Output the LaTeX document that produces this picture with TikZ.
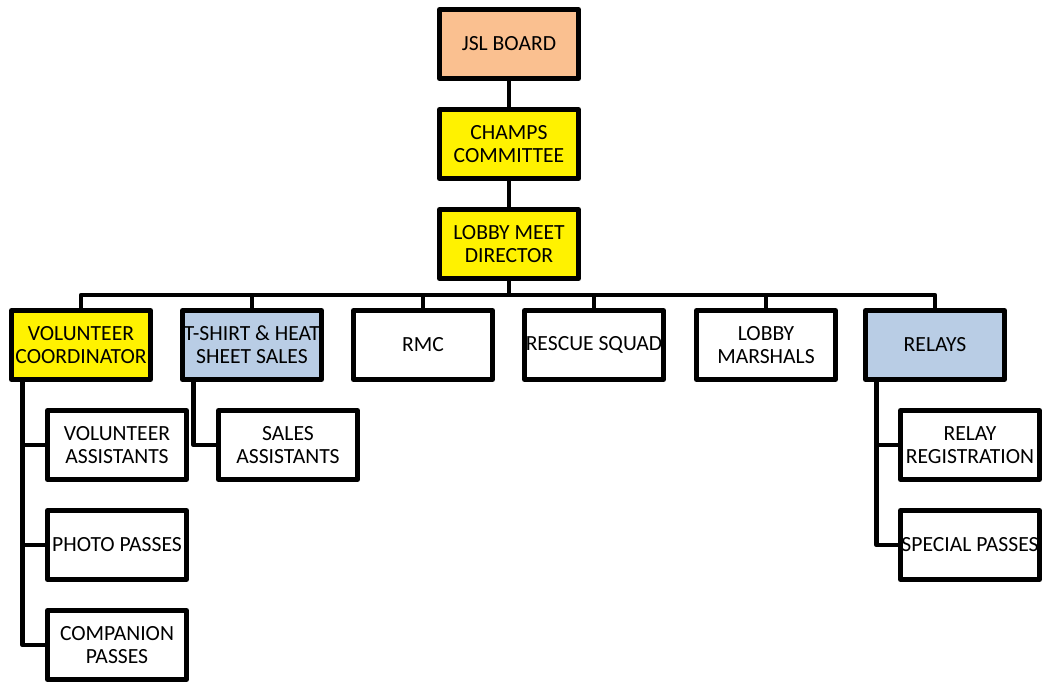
\documentclass[tikz,border=0pt]{standalone}
\usepackage{fontspec}
\setmainfont{Carlito}
\definecolor{peach}{HTML}{FAC090}
\definecolor{steel}{HTML}{B9CDE5}
\newcommand{\fitline}[1]{\makebox[2.6cm]{#1}}
\tikzset{
  post/.style={draw, line width=2.8pt, line join=round, fill=white,
    minimum width=2.78cm, minimum height=1.38cm,
    align=center, inner sep=0pt, font=\fontsize{12.3}{13.2}\selectfont},
  link/.style={line width=2.7pt, line join=round}
}
\begin{document}
\begin{tikzpicture}
\useasboundingbox (0,0) rectangle (20.94,-13.62);
% top of the chart
\node[post, fill=peach] (jsl) at (10.18,-0.88) {JSL BOARD};
\node[post, fill=yellow] (champs) at (10.18,-2.88) {CHAMPS\\COMMITTEE};
\node[post, fill=yellow] (lmd) at (10.18,-4.88) {LOBBY MEET\\DIRECTOR};
% second row
\node[post, fill=yellow] (vc) at (1.62,-6.9) {VOLUNTEER\\\fitline{COORDINATOR}};
\node[post, fill=steel] (ts) at (5.04,-6.9) {\fitline{T-SHIRT \& HEAT}\\SHEET SALES};
\node[post] (rmc) at (8.46,-6.9) {RMC};
\node[post] (rs) at (11.88,-6.9) {\fitline{RESCUE SQUAD}};
\node[post] (lm) at (15.32,-6.9) {LOBBY\\MARSHALS};
\node[post, fill=steel] (rel) at (18.7,-6.9) {RELAYS};
% third row
\node[post] (va) at (2.34,-8.9) {VOLUNTEER\\ASSISTANTS};
\node[post] (pp) at (2.34,-10.9) {\fitline{PHOTO PASSES}};
\node[post] (cp) at (2.34,-12.9) {COMPANION\\PASSES};
\node[post] (sa) at (5.76,-8.9) {SALES\\ASSISTANTS};
\node[post] (rr) at (19.4,-8.9) {RELAY\\\fitline{REGISTRATION}};
\node[post] (sp) at (19.4,-10.9) {\fitline{SPECIAL PASSES}};
% connectors
\coordinate (bar) at (10.18,-5.9);
\draw[link] (jsl) -- (champs);
\draw[link] (champs) -- (lmd);
\draw[link] (lmd.south) -- (bar);
\foreach \n in {vc,ts,rmc,rs,lm,rel}
  \draw[link] (\n.north) |- (bar);
\foreach \p/\c in {vc/va,vc/pp,vc/cp,ts/sa,rel/rr,rel/sp}
  \draw[link] ([xshift=0.27cm]\p.south west) |- (\c.west);
\end{tikzpicture}
\end{document}
